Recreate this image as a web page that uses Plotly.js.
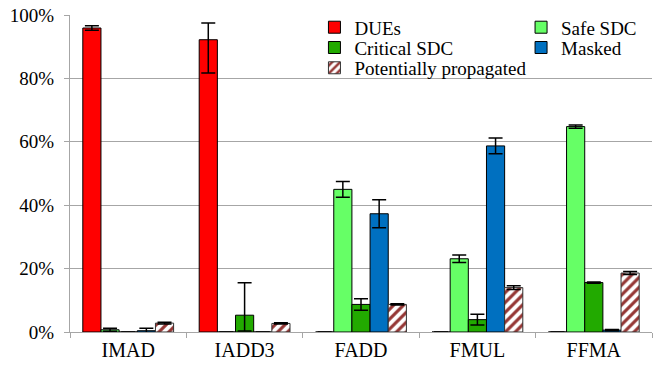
<!DOCTYPE html>
<html>
<head>
<meta charset="utf-8">
<script src="https://cdn.plot.ly/plotly-3.0.1.min.js"></script>
<style>html,body{margin:0;padding:0;background:#fff;}#chart{width:657px;height:366px;}</style>
</head>
<body>
<div id="chart"></div>
<script>
var categories = ['IMAD', 'IADD3', 'FADD', 'FMUL', 'FFMA'];

var dues = [95.9, 92.2, 0, 0, 0];
var duesErrPlus = [0.7, 5.3, null, null, null];
var duesErrMinus = [0.7, 10.5, null, null, null];

var safeSdc = [0.7, 0, 45.0, 23.1, 64.8];
var safeErr = [0.5, null, 2.5, 1.2, 0.5];

var criticalSdc = [0, 5.3, 8.7, 3.9, 15.6];
var criticalErrPlus = [null, 10.2, 1.8, 1.7, 0.2];
var criticalErrMinus = [null, 5.0, 1.8, 1.7, 0.2];

var masked = [0.4, 0, 37.3, 58.7, 0.6];
var maskedErr = [0.8, null, 4.4, 2.5, 0.2];

var potentially = [2.8, 2.7, 8.7, 14.0, 18.6];
var potentiallyErr = [0.3, 0.2, 0.2, 0.6, 0.5];

var yTicks = [0, 20, 40, 60, 80, 100];

var FONT = 'Liberation Serif';

function err(plus, minus) {
  var e = {type: 'data', array: plus, visible: true, color: '#000', thickness: 1.5, width: 7};
  if (minus) { e.symmetric = false; e.arrayminus = minus; }
  return e;
}

var traces = [
  {type: 'bar', name: 'DUEs', x: categories, y: dues, legend: 'legend',
   marker: {color: '#FF0000', line: {color: '#000', width: 1}},
   error_y: err(duesErrPlus, duesErrMinus)},
  {type: 'bar', name: 'Safe SDC', x: categories, y: safeSdc, legend: 'legend2',
   marker: {color: '#66FF66', line: {color: '#000', width: 1}},
   error_y: err(safeErr)},
  {type: 'bar', name: 'Critical SDC', x: categories, y: criticalSdc, legend: 'legend3',
   marker: {color: '#22AA00', line: {color: '#000', width: 1}},
   error_y: err(criticalErrPlus, criticalErrMinus)},
  {type: 'bar', name: 'Masked', x: categories, y: masked, legend: 'legend4',
   marker: {color: '#0070C0', line: {color: '#000', width: 1}},
   error_y: err(maskedErr)},
  {type: 'bar', name: 'Potentially propagated', x: categories, y: potentially, legend: 'legend5',
   marker: {color: '#FFFFFF', line: {color: '#333', width: 1},
            pattern: {shape: '/', fgcolor: '#953735', bgcolor: '#FFFFFF', size: 7, solidity: 0.45}},
   error_y: err(potentiallyErr)}
];

function leg(x, y) {
  return {x: x, y: y, xanchor: 'left', yanchor: 'middle', bgcolor: 'rgba(0,0,0,0)',
          borderwidth: 0, font: {family: FONT, size: 19}};
}

var layout = {
  width: 657, height: 366,
  margin: {l: 70, r: 5, t: 15, b: 34, autoexpand: false},
  paper_bgcolor: '#fff', plot_bgcolor: '#fff',
  barmode: 'group', bargap: 0.22, bargroupgap: 0,
  font: {family: FONT, size: 19, color: '#000'},
  showlegend: true,
  legend: leg(0.42, 0.961),
  legend2: leg(0.775, 0.961),
  legend3: leg(0.42, 0.897),
  legend4: leg(0.775, 0.897),
  legend5: leg(0.42, 0.833),
  xaxis: {
    type: 'category', tickson: 'boundaries', ticks: 'outside', ticklen: 5,
    tickcolor: '#A6A6A6', showline: true, linecolor: '#A6A6A6', linewidth: 1,
    showgrid: false, tickfont: {family: FONT, size: 20}
  },
  yaxis: {
    range: [0, 100], tickvals: yTicks, ticktext: yTicks.map(function(v){return v + '%';}),
    ticks: 'outside', ticklen: 5, tickcolor: '#A6A6A6', ticklabelstandoff: 6,
    showline: true, linecolor: '#A6A6A6', linewidth: 1,
    showgrid: true, gridcolor: '#A6A6A6', gridwidth: 1, zeroline: false,
    tickfont: {family: FONT, size: 19}
  }
};

Plotly.newPlot('chart', traces, layout, {displayModeBar: false});
</script>
</body>
</html>
